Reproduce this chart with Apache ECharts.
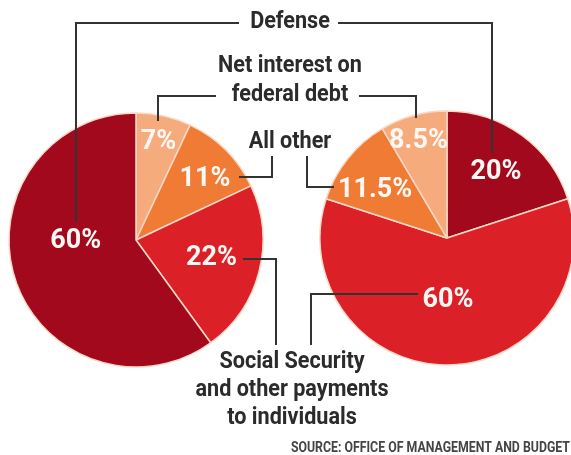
<!DOCTYPE html>
<html>
<head>
<meta charset="utf-8">
<script src="https://cdn.jsdelivr.net/npm/echarts@6/dist/echarts.min.js"></script>
<style>
html,body{margin:0;padding:0;background:#fff;}
#chart{width:571px;height:455px;}
</style>
</head>
<body>
<div id="chart"></div>
<script>
// ---- Data ----
var leftCategories = ['Net interest on federal debt', 'All other', 'Social Security and other payments to individuals', 'Defense'];
var leftValues = [7, 11, 22, 60];
var leftLabels = ['7%', '11%', '22%', '60%'];

var rightCategories = ['Defense', 'Social Security and other payments to individuals', 'All other', 'Net interest on federal debt'];
var rightValues = [20, 60, 11.5, 8.5];
var rightLabels = ['20%', '60%', '11.5%', '8.5%'];

var sourceText = 'SOURCE: OFFICE OF MANAGEMENT AND BUDGET';

// ---- Styles ----
var colorMap = {
  'Defense': '#a3091d',
  'Social Security and other payments to individuals': '#dc2027',
  'All other': '#ef7b34',
  'Net interest on federal debt': '#f5ab7c'
};
var labelFont = "Roboto, 'Liberation Sans', sans-serif";
var leftOffsets = [[8, -33], [22, -14], [11, 2], [3, -19]];
var rightOffsets = [[10, -12], [1, -4], [-20, -6], [-11, -33]];

function buildData(cats, vals, labels) {
  return cats.map(function (c, i) {
    return { name: c, value: vals[i], label: { formatter: labels[i] }, itemStyle: { color: colorMap[c] } };
  });
}

var chart = echarts.init(document.getElementById('chart'), null, { renderer: 'canvas' });

var lineStyle = { stroke: '#333', lineWidth: 2, fill: null };
function pl(points) {
  return { type: 'polyline', shape: { points: points }, style: lineStyle, z: 10 };
}
function txt(x, y, s, size, align, sx, color) {
  return {
    type: 'text', x: x, y: y, z: 11, scaleX: sx || 0.9,
    style: {
      text: s, fill: color || '#2b2b2b', font: 'bold ' + size + 'px ' + labelFont,
      align: align || 'center', verticalAlign: 'middle'
    }
  };
}

var pieCommon = {
  type: 'pie',
  radius: 127,
  startAngle: 90,
  clockwise: true,
  silent: true,
  animation: false,
  itemStyle: { borderColor: '#fbd8c6', borderWidth: 1.5 },
  label: {
    show: true, position: 'inside', color: '#fff8f4',
    fontFamily: labelFont, fontWeight: 'bold', fontSize: 27
  },
  labelLine: { show: false },
  emphasis: { disabled: true }
};

var option = {
  backgroundColor: '#ffffff',
  animation: false,
  series: [
    Object.assign({}, pieCommon, {
      center: [136, 240],
      data: buildData(leftCategories, leftValues, leftLabels),
      labelLayout: function (p) { var o = leftOffsets[p.dataIndex]; return { dx: o[0], dy: o[1] }; }
    }),
    Object.assign({}, pieCommon, {
      center: [447, 238],
      data: buildData(rightCategories, rightValues, rightLabels),
      labelLayout: function (p) { var o = rightOffsets[p.dataIndex]; return { dx: o[0], dy: o[1] }; }
    })
  ],
  graphic: [
    // Defense
    txt(290, 22, 'Defense', 24),
    pl([[239, 23], [76, 23], [76, 222]]),
    pl([[338, 23], [492, 23], [492, 153]]),
    // Net interest on federal debt
    txt(290, 66, 'Net interest on', 24),
    txt(290, 95, 'federal debt', 24),
    pl([[216, 96], [158, 96], [158, 121]]),
    pl([[359, 96], [416, 96], [416, 118]]),
    // All other
    txt(290, 142, 'All other', 24),
    pl([[272, 156], [272, 177], [239, 177]]),
    pl([[307, 156], [307, 187], [334, 187]]),
    // Social Security
    txt(292, 362, 'Social Security', 24),
    txt(292, 390, 'and other payments', 24),
    txt(292, 418, 'to individuals', 24),
    pl([[243, 259], [276, 259], [276, 345]]),
    pl([[418, 294], [311, 294], [311, 345]]),
    // Source
    txt(570, 448, sourceText, 14, 'right', 0.88, '#444')
  ]
};
chart.setOption(option);
</script>
</body>
</html>
